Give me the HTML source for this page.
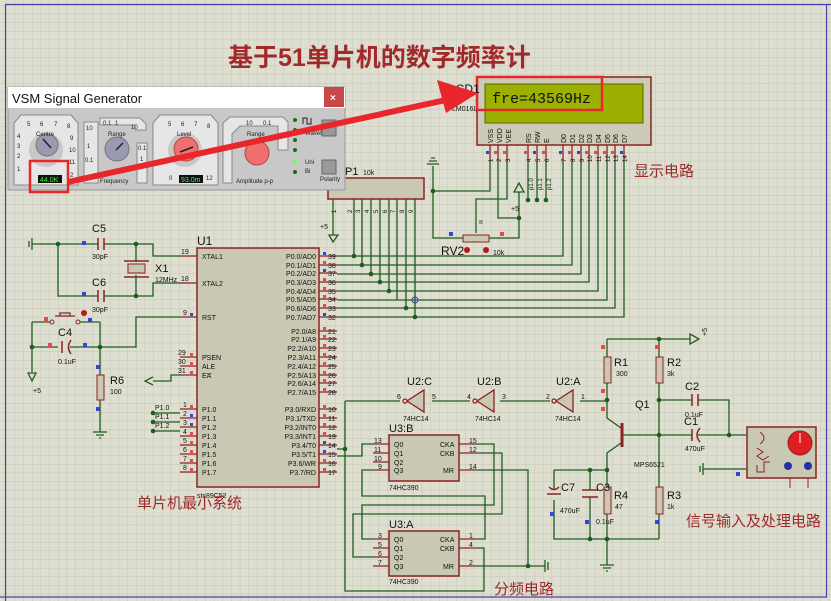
<!DOCTYPE html>
<html><head><meta charset="utf-8"><style>
html,body{margin:0;padding:0;background:#dfdfd1;}
svg{display:block;}
text{font-family:"Liberation Sans","Noto Sans CJK SC",sans-serif;}
.w{stroke:#1d5e1d;stroke-width:1.3;fill:none;}
.p{stroke:#8c2323;stroke-width:1.3;fill:none;}
.b{fill:#c9c8b3;stroke:#8c2323;stroke-width:1.5;}
.s{font-size:7px;fill:#111;}
.l{font-size:11px;fill:#111;}
.cn{font-size:15px;fill:#9a2a2a;font-family:"Liberation Sans","Noto Sans CJK SC",sans-serif;}
.j{fill:#1d5e1d;}
.r{fill:#e84848;}
.u{fill:#3344dd;}
</style></head><body>
<svg width="831" height="601" viewBox="0 0 831 601" xmlns="http://www.w3.org/2000/svg">
<defs>
<pattern id="g" x="6" y="5" width="8.66" height="8.66" patternUnits="userSpaceOnUse">
<path d="M0 0H8.66M0 0V8.66" stroke="#c5c5b6" stroke-width="1" fill="none"/>
</pattern>
</defs>
<rect width="831" height="601" fill="#dfdfd1"/>
<rect width="831" height="601" fill="url(#g)"/>
<path d="M5.5 601V4.5H831" stroke="#4444aa" stroke-width="1.2" fill="none"/>
<path d="M826.5 4V597H0" stroke="#4444aa" stroke-width="1.2" fill="none"/>

<text x="228" y="66" style="font-size:25px;fill:#a3282a;font-weight:bold;font-family:'Liberation Sans','Noto Sans CJK SC',sans-serif">基于51单片机的数字频率计</text>

<!-- LCD -->
<rect x="477" y="77" width="174" height="68" fill="#cdcbb7" stroke="#8c2323" stroke-width="1.5"/>
<rect x="485" y="84" width="158" height="39" fill="#9bb000" stroke="#5a6a00"/>
<text x="492" y="103" style="font-family:'Liberation Mono',monospace;font-size:15px;fill:#111">fre=43569Hz</text>
<rect x="477" y="77" width="125" height="33" fill="none" stroke="#e8262b" stroke-width="2.5"/>
<text x="449" y="93" class="l" style="font-size:12px">LCD1</text>
<text x="452" y="111" class="s">LM016L</text>
<g class="s" style="font-size:7px">
<text transform="translate(493,143) rotate(-90)">VSS</text>
<text transform="translate(502,143) rotate(-90)">VDD</text>
<text transform="translate(511,143) rotate(-90)">VEE</text>
<text transform="translate(531,143) rotate(-90)">RS</text>
<text transform="translate(540,143) rotate(-90)">RW</text>
<text transform="translate(549,143) rotate(-90)">E</text>
<text transform="translate(566,143) rotate(-90)">D0</text>
<text transform="translate(575,143) rotate(-90)">D1</text>
<text transform="translate(584,143) rotate(-90)">D2</text>
<text transform="translate(592,143) rotate(-90)">D3</text>
<text transform="translate(601,143) rotate(-90)">D4</text>
<text transform="translate(610,143) rotate(-90)">D5</text>
<text transform="translate(618,143) rotate(-90)">D6</text>
<text transform="translate(627,143) rotate(-90)">D7</text>
</g>
<g class="p">
<path d="M490 145V162M498 145V162M507 145V162M528 145V162M537 145V162M546 145V162M563 145V162M572 145V162M581 145V162M589 145V162M598 145V162M607 145V162M615 145V162M624 145V162"/>
</g>
<g>
<rect x="486" y="151" width="3" height="3" class="u"/><rect x="494" y="151" width="3" height="3" class="r"/><rect x="503" y="151" width="3" height="3" class="r"/>
<rect x="524" y="151" width="3" height="3" class="r"/><rect x="533" y="151" width="3" height="3" class="u"/><rect x="542" y="151" width="3" height="3" class="r"/>
<rect x="559" y="151" width="3" height="3" class="u"/><rect x="568" y="151" width="3" height="3" class="r"/><rect x="577" y="151" width="3" height="3" class="u"/><rect x="585" y="151" width="3" height="3" class="r"/><rect x="594" y="151" width="3" height="3" class="r"/><rect x="603" y="151" width="3" height="3" class="r"/><rect x="611" y="151" width="3" height="3" class="r"/><rect x="620" y="151" width="3" height="3" class="u"/>
</g>
<g class="s" style="font-size:6px">
<text transform="translate(493,162) rotate(-90)">1</text><text transform="translate(501,162) rotate(-90)">2</text><text transform="translate(510,162) rotate(-90)">3</text>
<text transform="translate(531,162) rotate(-90)">4</text><text transform="translate(540,162) rotate(-90)">5</text><text transform="translate(549,162) rotate(-90)">6</text>
<text transform="translate(566,162) rotate(-90)">7</text><text transform="translate(575,162) rotate(-90)">8</text><text transform="translate(584,162) rotate(-90)">9</text>
<text transform="translate(592,162) rotate(-90)">10</text><text transform="translate(601,162) rotate(-90)">11</text><text transform="translate(610,162) rotate(-90)">12</text>
<text transform="translate(618,162) rotate(-90)">13</text><text transform="translate(627,162) rotate(-90)">14</text>
<text transform="translate(533,190) rotate(-90)">p1.0</text><text transform="translate(542,190) rotate(-90)">p1.1</text><text transform="translate(551,190) rotate(-90)">p1.2</text>
</g>
<text x="634" y="176" class="cn">显示电路</text>

<g class="w">
<path d="M490 162V191H433V166"/><path d="M427 164H439M429 161H437M431 158H435"/>
<path d="M433 191V238H463"/><path d="M489 238H519V218"/>
<path d="M498 162V218H519"/><path d="M519 218V192"/>
<path d="M507 162V199H476V233"/>
<path d="M528 162V200M537 162V200M546 162V200"/>
<path d="M563 162V256H337M572 162V265H337M581 162V274H337M589 162V282H337M598 162V291H337M607 162V300H337M615 162V308H337M624 162V317H337"/>
<path d="M354 199V256M362 199V265M371 199V274M380 199V282M389 199V291M397 199V300M406 199V308M415 199V317"/>
<path d="M333 199V235"/>
</g>
<path d="M514 192L519 183L524 192Z" fill="none" stroke="#1d5e1d" stroke-width="1.3"/>
<text x="511" y="211" class="s">+5</text>
<path d="M329 235L333 242L338 235Z" fill="none" stroke="#1d5e1d" stroke-width="1.3"/>
<text x="320" y="229" class="s">+5</text>
<g class="j"><circle cx="433" cy="191" r="2.3"/><circle cx="519" cy="218" r="2.3"/><circle cx="528" cy="200" r="2.3"/><circle cx="537" cy="200" r="2.3"/><circle cx="546" cy="200" r="2.3"/>
<circle cx="354" cy="256" r="2.3"/><circle cx="362" cy="265" r="2.3"/><circle cx="371" cy="274" r="2.3"/><circle cx="380" cy="282" r="2.3"/><circle cx="389" cy="291" r="2.3"/><circle cx="406" cy="308" r="2.3"/><circle cx="415" cy="317" r="2.3"/></g>
<circle cx="415" cy="300" r="3" fill="none" stroke="#3344aa"/>
<rect x="463" y="235" width="26" height="7" fill="#c9c8b3" stroke="#8c2323"/>
<circle cx="467" cy="250" r="3" fill="#b81818"/><circle cx="486" cy="250" r="3" fill="#b81818"/>
<text x="441" y="255" class="l" style="font-size:12px">RV2</text><text x="493" y="255" class="s">10k</text>
<rect x="479" y="220" width="4" height="4" fill="#999"/>
<rect x="449" y="232" width="4" height="4" class="u"/><rect x="500" y="232" width="4" height="4" class="r"/>
<rect x="328" y="178" width="96" height="21" class="b"/>
<text x="345" y="175" class="l">P1</text><text x="363" y="175" class="s">10k</text>
<g class="s" style="font-size:6px">
<text transform="translate(336,213) rotate(-90)">1</text><text transform="translate(352,213) rotate(-90)">2</text><text transform="translate(360,213) rotate(-90)">3</text><text transform="translate(369,213) rotate(-90)">4</text><text transform="translate(378,213) rotate(-90)">5</text><text transform="translate(387,213) rotate(-90)">6</text><text transform="translate(395,213) rotate(-90)">7</text><text transform="translate(404,213) rotate(-90)">8</text><text transform="translate(413,213) rotate(-90)">9</text>
</g>

<!-- Signal generator window -->
<rect x="8" y="87" width="337" height="103" fill="#c8c8c8" stroke="#999"/>
<rect x="8" y="87" width="337" height="21" fill="#fff"/>
<text x="12" y="103" style="font-size:13px;fill:#111">VSM Signal Generator</text>
<rect x="324" y="87" width="20" height="20" fill="#c84848"/>
<text x="330" y="101" style="font-size:10px;fill:#fff;font-weight:bold">×</text>
<g fill="#e6e6e6" stroke="#888">
<path d="M14 123L21 115H71L78 123V185H14Z"/>
<path d="M84 122H98V183H84Z"/><path d="M100 118H140L146 124V130H135V125H100Z"/><path d="M137 143H147V183H137Z"/>
<path d="M153 123L160 115H211L218 123V185H153Z"/>
<path d="M223 123L230 117H283L288 122V150H278V126H240L232 134V183H223Z"/>
</g>
<g fill="#c8c8c8"><circle cx="46" cy="150" r="17"/><circle cx="185" cy="150" r="17"/></g>
<circle cx="47" cy="145" r="11" fill="#9a9ab4" stroke="#777"/>
<circle cx="117" cy="149" r="12" fill="#9a9ab4" stroke="#777"/>
<circle cx="186" cy="149" r="12" fill="#f07070" stroke="#b44"/>
<circle cx="257" cy="153" r="12" fill="#f07070" stroke="#b44"/>
<path d="M43 139L51 148M116 150L123 143M180 152L193 147" stroke="#222" stroke-width="1.5"/>
<rect x="38" y="175" width="24" height="8" fill="#111"/><text x="40" y="182" style="font-size:7px;fill:#3f3">44.0K</text>
<rect x="179" y="175" width="24" height="8" fill="#111"/><text x="181" y="182" style="font-size:7px;fill:#3f3">93.0m</text>
<g class="s" style="font-size:6px;fill:#222">
<text x="27" y="126">5</text><text x="40" y="126">6</text><text x="54" y="126">7</text><text x="67" y="128">8</text><text x="36" y="136">Centre</text>
<text x="17" y="138">4</text><text x="17" y="148">3</text><text x="17" y="158">2</text><text x="17" y="171">1</text><text x="70" y="140">9</text><text x="69" y="152">10</text><text x="69" y="164">11</text><text x="70" y="177">2</text>
<text x="108" y="136">Range</text><text x="86" y="130">10</text><text x="87" y="148">1</text><text x="85" y="162">0.1</text><text x="103" y="125">0.1</text><text x="115" y="125">1</text><text x="131" y="129">10</text><text x="138" y="150">0.1</text><text x="140" y="161">1</text>
<text x="100" y="183">Frequency</text>
<text x="168" y="126">5</text><text x="181" y="126">6</text><text x="194" y="126">7</text><text x="207" y="128">8</text><text x="177" y="136">Level</text><text x="169" y="180">0</text><text x="206" y="180">12</text>
<text x="247" y="136">Range</text><text x="246" y="125">10</text><text x="263" y="125">0.1</text>
<text x="236" y="183">Amplitude  p-p</text>
<text x="305" y="135">Waveform</text><text x="305" y="164">Uni</text><text x="305" y="173">Bi</text><text x="320" y="181">Polarity</text>
</g>
<g fill="#1d6b1d"><circle cx="295" cy="120" r="2"/><circle cx="295" cy="130" r="2"/><circle cx="295" cy="140" r="2"/><circle cx="295" cy="150" r="2"/><circle cx="295" cy="172" r="2"/></g>
<circle cx="295" cy="161" r="2" fill="#6f6"/>
<path d="M303 124V118H307V124H311V118" stroke="#222" fill="none"/>
<rect x="322" y="120" width="14" height="16" fill="#999" stroke="#666"/>
<rect x="322" y="160" width="14" height="14" fill="#999" stroke="#666"/>
<rect x="30" y="161" width="38" height="31" fill="none" stroke="#e8262b" stroke-width="2.5"/>
<path d="M68 182L446 100" stroke="#e8262b" stroke-width="6"/>
<path d="M478 93L437 80L446 113Z" fill="#e8262b"/>

<!-- U1 -->
<rect x="197" y="248" width="122" height="239" class="b"/>
<text x="197" y="245" class="l" style="font-size:12px">U1</text>
<text x="197" y="498" class="s">stc89C52</text>
<g class="p">
<path d="M180 256H197M180 283H197M180 317H197M180 357H197M180 366H197M180 375H197"/>
<path d="M180 409H197M180 418H197M180 427H197M180 436H197M180 445H197M180 454H197M180 463H197M180 472H197"/>
<path d="M319 256H337M319 265H337M319 273H337M319 282H337M319 291H337M319 299H337M319 308H337M319 317H337"/>
<path d="M319 331H337M319 339H337M319 348H337M319 357H337M319 366H337M319 375H337M319 383H337M319 392H337"/>
<path d="M319 409H337M319 418H337M319 427H337M319 436H337M319 445H337M319 454H337M319 463H337M319 472H337"/>
</g>
<g>
<rect x="323" y="252" width="3" height="3" class="u"/><rect x="323" y="261" width="3" height="3" class="r"/><rect x="323" y="269" width="3" height="3" class="u"/><rect x="323" y="278" width="3" height="3" class="r"/><rect x="323" y="287" width="3" height="3" class="r"/><rect x="323" y="295" width="3" height="3" class="r"/><rect x="323" y="304" width="3" height="3" class="r"/><rect x="323" y="313" width="3" height="3" class="u"/>
<rect x="323" y="327" width="3" height="3" class="r"/><rect x="323" y="335" width="3" height="3" class="r"/><rect x="323" y="344" width="3" height="3" class="r"/><rect x="323" y="353" width="3" height="3" class="r"/><rect x="323" y="362" width="3" height="3" class="r"/><rect x="323" y="371" width="3" height="3" class="r"/><rect x="323" y="379" width="3" height="3" class="r"/><rect x="323" y="388" width="3" height="3" class="r"/>
<rect x="323" y="405" width="3" height="3" class="r"/><rect x="323" y="414" width="3" height="3" class="r"/><rect x="323" y="423" width="3" height="3" class="r"/><rect x="323" y="432" width="3" height="3" class="r"/><rect x="323" y="441" width="3" height="3" class="u"/><rect x="323" y="450" width="3" height="3" class="u"/><rect x="323" y="459" width="3" height="3" class="r"/><rect x="323" y="468" width="3" height="3" class="r"/>
<rect x="190" y="313" width="3" height="3" class="u"/><rect x="190" y="353" width="3" height="3" class="r"/><rect x="190" y="362" width="3" height="3" class="r"/><rect x="190" y="371" width="3" height="3" class="r"/>
<rect x="190" y="405" width="3" height="3" class="r"/><rect x="190" y="414" width="3" height="3" class="u"/><rect x="190" y="423" width="3" height="3" class="u"/><rect x="190" y="432" width="3" height="3" class="r"/><rect x="190" y="441" width="3" height="3" class="r"/><rect x="190" y="450" width="3" height="3" class="r"/><rect x="190" y="459" width="3" height="3" class="r"/><rect x="190" y="468" width="3" height="3" class="r"/>
</g>
<g class="s">
<text x="202" y="259">XTAL1</text><text x="202" y="286">XTAL2</text><text x="202" y="320">RST</text>
<text x="202" y="360" style="text-decoration:overline">PSEN</text><text x="202" y="369">ALE</text><text x="202" y="378" style="text-decoration:overline">EA</text>
<text x="202" y="412">P1.0</text><text x="202" y="421">P1.1</text><text x="202" y="430">P1.2</text><text x="202" y="439">P1.3</text><text x="202" y="448">P1.4</text><text x="202" y="457">P1.5</text><text x="202" y="466">P1.6</text><text x="202" y="475">P1.7</text>
<g text-anchor="end">
<text x="316" y="259">P0.0/AD0</text><text x="316" y="268">P0.1/AD1</text><text x="316" y="276">P0.2/AD2</text><text x="316" y="285">P0.3/AD3</text><text x="316" y="294">P0.4/AD4</text><text x="316" y="302">P0.5/AD5</text><text x="316" y="311">P0.6/AD6</text><text x="316" y="320">P0.7/AD7</text>
<text x="316" y="334">P2.0/A8</text><text x="316" y="342">P2.1/A9</text><text x="316" y="351">P2.2/A10</text><text x="316" y="360">P2.3/A11</text><text x="316" y="369">P2.4/A12</text><text x="316" y="378">P2.5/A13</text><text x="316" y="386">P2.6/A14</text><text x="316" y="395">P2.7/A15</text>
<text x="316" y="412">P3.0/RXD</text><text x="316" y="421">P3.1/TXD</text><text x="316" y="430">P3.2/INT0</text><text x="316" y="439">P3.3/INT1</text><text x="316" y="448">P3.4/T0</text><text x="316" y="457">P3.5/T1</text><text x="316" y="466">P3.6/WR</text><text x="316" y="475">P3.7/RD</text>
</g>
<text x="181" y="254">19</text><text x="181" y="281">18</text><text x="183" y="315">9</text><text x="178" y="355">29</text><text x="178" y="364">30</text><text x="178" y="373">31</text>
<text x="183" y="407">1</text><text x="183" y="416">2</text><text x="183" y="425">3</text><text x="183" y="434">4</text><text x="183" y="443">5</text><text x="183" y="452">6</text><text x="183" y="461">7</text><text x="183" y="470">8</text>
<text x="328" y="259">39</text><text x="328" y="268">38</text><text x="328" y="276">37</text><text x="328" y="285">36</text><text x="328" y="294">35</text><text x="328" y="302">34</text><text x="328" y="311">33</text><text x="328" y="320">32</text>
<text x="328" y="334">21</text><text x="328" y="342">22</text><text x="328" y="351">23</text><text x="328" y="360">24</text><text x="328" y="369">25</text><text x="328" y="378">26</text><text x="328" y="386">27</text><text x="328" y="395">28</text>
<text x="328" y="412">10</text><text x="328" y="421">11</text><text x="328" y="430">12</text><text x="328" y="439">13</text><text x="328" y="448">14</text><text x="328" y="457">15</text><text x="328" y="466">16</text><text x="328" y="475">17</text>
<text x="155" y="410">P1.0</text><text x="155" y="419">P1.1</text><text x="155" y="428">P1.2</text>
</g>
<g class="w"><path d="M153 413H180M153 422H180M153 431H180"/><path d="M180 375H171V381H153"/></g>
<path d="M153 377L145 381L153 385" fill="none" stroke="#1d5e1d" stroke-width="1.3"/>
<g class="j"><circle cx="153" cy="413" r="2.3"/><circle cx="153" cy="422" r="2.3"/><circle cx="153" cy="431" r="2.3"/></g>
<text x="137" y="508" class="cn">单片机最小系统</text>

<g class="w">
<path d="M32 244H98M104 244H153V256H180"/><path d="M58 244V296H98M104 296H153V283H180"/>
<path d="M136 244V262M136 275V296"/>
<path d="M32 322V347H58M70 347H136V317H180M100 322V347V375M100 400V432"/>
<path d="M32 322H50M80 322H100"/><path d="M32 347V372"/>
</g>
<path d="M32 238V250M29 241V247" stroke="#1d5e1d" stroke-width="1.3"/>
<path d="M98 238V250M104 238V250M98 290V302M104 290V302" stroke="#8c2323" stroke-width="1.5"/>
<rect x="128" y="264" width="17" height="9" fill="#c9c8b3" stroke="#8c2323"/>
<path d="M124 261H149M124 277H149" stroke="#8c2323" stroke-width="1.5"/>
<path d="M62 341V353" stroke="#8c2323" stroke-width="1.5"/><path d="M71 340Q66 347 71 354" stroke="#8c2323" stroke-width="1.5" fill="none"/>
<path d="M55 316H75M60 316V313H70V316" stroke="#8c2323" stroke-width="1.3" fill="none"/>
<circle cx="52" cy="322" r="2" fill="none" stroke="#8c2323"/><circle cx="78" cy="322" r="2" fill="none" stroke="#8c2323"/>
<circle cx="84" cy="313" r="3" fill="#b81818"/>
<rect x="97" y="375" width="7" height="25" fill="#c9c8b3" stroke="#8c2323"/>
<path d="M93 432H107M96 435H104M99 438H101" stroke="#1d5e1d" stroke-width="1.3"/>
<path d="M28 373L32 381L36 373Z" fill="none" stroke="#1d5e1d" stroke-width="1.3"/>
<g class="j"><circle cx="58" cy="244" r="2.3"/><circle cx="136" cy="244" r="2.3"/><circle cx="136" cy="296" r="2.3"/><circle cx="32" cy="347" r="2.3"/><circle cx="100" cy="347" r="2.3"/></g>
<g class="l"><text x="92" y="232">C5</text><text x="92" y="286">C6</text><text x="155" y="272">X1</text><text x="58" y="336">C4</text><text x="110" y="384">R6</text></g>
<g class="s"><text x="92" y="259">30pF</text><text x="92" y="312">30pF</text><text x="155" y="282">12MHz</text><text x="58" y="364">0.1uF</text><text x="110" y="394">100</text><text x="33" y="393">+5</text></g>
<g><rect x="82" y="241" width="4" height="4" class="u"/><rect x="82" y="292" width="4" height="4" class="u"/><rect x="44" y="317" width="4" height="4" class="r"/><rect x="88" y="318" width="4" height="4" class="u"/><rect x="48" y="343" width="4" height="4" class="r"/><rect x="83" y="343" width="4" height="4" class="u"/><rect x="96" y="365" width="4" height="4" class="u"/><rect x="96" y="407" width="4" height="4" class="u"/></g>

<g class="w">
<path d="M345 401H400M432 401H470M500 401H550M580 401H607"/>
<path d="M345 401V591H484V548H476"/>
<path d="M337 449H345M337 456H362V444H373"/>
<path d="M476 444H494V505H362V539H373"/>
<path d="M476 453H502V514H353V557H373"/>
<path d="M373 470H362V496H485V539H476"/>
<path d="M476 470H528V566H476M528 566H545"/>
</g>
<path d="M545 560V572M548 562V570" stroke="#1d5e1d" stroke-width="1.3"/>
<g class="j"><circle cx="345" cy="449" r="2.3"/><circle cx="528" cy="566" r="2.3"/></g>
<g fill="#c9c8b3" stroke="#8c2323" stroke-width="1.3">
<path d="M424 390V412L407 401Z"/><circle cx="405" cy="401" r="2" fill="#dfdfd1"/>
<path d="M494 390V412L477 401Z"/><circle cx="475" cy="401" r="2" fill="#dfdfd1"/>
<path d="M573 390V412L556 401Z"/><circle cx="554" cy="401" r="2" fill="#dfdfd1"/>
</g>
<g class="l"><text x="407" y="385">U2:C</text><text x="477" y="385">U2:B</text><text x="556" y="385">U2:A</text></g>
<g class="s"><text x="397" y="399">6</text><text x="432" y="399">5</text><text x="467" y="399">4</text><text x="502" y="399">3</text><text x="546" y="399">2</text><text x="581" y="399">1</text>
<text x="403" y="421">74HC14</text><text x="475" y="421">74HC14</text><text x="555" y="421">74HC14</text></g>

<rect x="389" y="435" width="70" height="46" class="b"/>
<rect x="389" y="531" width="70" height="45" class="b"/>
<g class="p"><path d="M373 444H389M373 453H389M373 462H389M373 470H389M459 444H476M459 453H476M459 470H476"/>
<path d="M373 539H389M373 548H389M373 557H389M373 566H389M459 539H476M459 548H476M459 566H476"/></g>
<g class="l"><text x="389" y="432">U3:B</text><text x="389" y="528">U3:A</text></g>
<g class="s"><text x="394" y="447">Q0</text><text x="394" y="456">Q1</text><text x="394" y="465">Q2</text><text x="394" y="473">Q3</text>
<text x="440" y="447">CKA</text><text x="440" y="456">CKB</text><text x="443" y="473">MR</text>
<text x="394" y="542">Q0</text><text x="394" y="551">Q1</text><text x="394" y="560">Q2</text><text x="394" y="569">Q3</text>
<text x="440" y="542">CKA</text><text x="440" y="551">CKB</text><text x="443" y="569">MR</text>
<text x="389" y="490">74HC390</text><text x="389" y="584">74HC390</text>
<text x="374" y="443">13</text><text x="374" y="452">11</text><text x="374" y="461">10</text><text x="378" y="469">9</text>
<text x="469" y="443">15</text><text x="469" y="452">12</text><text x="469" y="469">14</text>
<text x="378" y="538">3</text><text x="378" y="547">5</text><text x="378" y="556">6</text><text x="378" y="565">7</text>
<text x="469" y="538">1</text><text x="469" y="547">4</text><text x="469" y="565">2</text></g>
<text x="494" y="594" class="cn">分频电路</text>

<g class="w">
<path d="M607 339H690M607 339V357M607 383V418L621 428M621 443L607 453V470"/>
<path d="M659 339V357M659 383V487M659 514V539"/>
<path d="M623 435H692M698 435H746M659 400H692M698 400H729V435"/>
<path d="M554 470H607M554 470V490M554 500V539H659M590 470V490M590 497V539M607 470V487M607 514V539V565"/>
<path d="M703 469H746"/>
</g>
<path d="M690 334L699 339L690 344Z" fill="none" stroke="#1d5e1d" stroke-width="1.3"/>
<text x="702" y="337" class="s" transform="rotate(-90 704 334)">+5</text>
<path d="M622 423V447" stroke="#8c2323" stroke-width="3"/>
<path d="M692 394V406M698 394V406M692 429V441" stroke="#8c2323" stroke-width="1.5"/>
<path d="M700 428Q694 435 700 442" stroke="#8c2323" stroke-width="1.5" fill="none"/>
<path d="M703 463V475M700 466V472" stroke="#1d5e1d" stroke-width="1.3"/>
<path d="M547 494H561M549 487Q554 492 559 487" stroke="#8c2323" stroke-width="1.5" fill="none"/>
<path d="M582 490H598M582 497H598" stroke="#8c2323" stroke-width="1.5"/>
<path d="M600 565H614M603 568H611M606 571H608" stroke="#1d5e1d" stroke-width="1.3"/>
<g fill="#c9c8b3" stroke="#8c2323"><rect x="604" y="357" width="7" height="26"/><rect x="656" y="357" width="7" height="26"/><rect x="656" y="487" width="7" height="27"/><rect x="604" y="487" width="7" height="27"/></g>
<g class="j"><circle cx="659" cy="339" r="2.3"/><circle cx="607" cy="400" r="2.3"/><circle cx="659" cy="400" r="2.3"/><circle cx="659" cy="435" r="2.3"/><circle cx="729" cy="435" r="2.3"/><circle cx="607" cy="470" r="2.3"/><circle cx="590" cy="470" r="2.3"/><circle cx="590" cy="539" r="2.3"/><circle cx="607" cy="539" r="2.3"/></g>
<rect x="747" y="427" width="69" height="51" class="b"/>
<path d="M760 432Q768 438 760 444M757 448L763 452L757 456L763 460L769 456M757 465V472H764V462H770" stroke="#8c2323" fill="none"/>
<circle cx="800" cy="443" r="12" fill="#e02020" stroke="#8c2323"/><path d="M800 433V443" stroke="#fff"/>
<circle cx="788" cy="466" r="4" fill="#2233aa"/><circle cx="808" cy="466" r="4" fill="#2233aa"/>
<path d="M790 478V488M808 478V488" stroke="#8c2323"/>
<g class="l"><text x="614" y="366">R1</text><text x="667" y="366">R2</text><text x="635" y="408">Q1</text><text x="685" y="390">C2</text><text x="684" y="425">C1</text><text x="561" y="491">C7</text><text x="596" y="491">C3</text><text x="614" y="499">R4</text><text x="667" y="499">R3</text></g>
<g class="s"><text x="616" y="376">300</text><text x="667" y="376">3k</text><text x="685" y="417">0.1uF</text><text x="685" y="451">470uF</text><text x="634" y="467">MPS6521</text><text x="560" y="513">470uF</text><text x="596" y="524">0.1uF</text><text x="615" y="509">47</text><text x="667" y="509">1k</text></g>
<g><rect x="601" y="345" width="4" height="4" class="r"/><rect x="655" y="345" width="4" height="4" class="r"/><rect x="601" y="389" width="4" height="4" class="r"/><rect x="601" y="407" width="4" height="4" class="r"/><rect x="736" y="472" width="4" height="4" class="u"/><rect x="550" y="512" width="4" height="4" class="u"/><rect x="585" y="520" width="4" height="4" class="u"/><rect x="655" y="520" width="4" height="4" class="u"/></g>
<text x="686" y="526" class="cn">信号输入及处理电路</text>
</svg>
</body></html>
